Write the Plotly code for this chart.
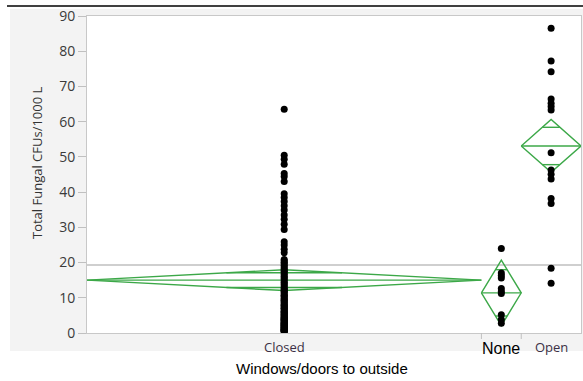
import math
import plotly.graph_objects as go

# ---- data ----
categories = ["Closed", "None", "Open"]

closed_values = [
    63.5, 50.5, 49.3, 47.9, 45.3, 44.4, 43.0, 39.5, 38.5, 37.3, 36.1, 34.9,
    33.5, 32.3, 30.9, 29.4, 25.9, 25.0, 23.8, 22.8,
    20.9, 20.5, 20.1, 19.7, 19.2, 18.8, 18.3, 17.9, 17.5, 17.0, 16.6, 16.1,
    15.7, 15.3, 14.8, 14.4, 14.0, 13.6, 13.1, 12.7, 12.3, 11.9, 11.5, 11.1,
    10.7, 10.3, 9.9, 9.5, 9.1, 8.7, 8.3, 7.9, 7.6, 7.2, 6.9, 6.5, 6.2, 5.9,
    5.6, 5.3, 5.0, 4.7, 4.4, 4.1, 3.8, 3.5, 3.3, 3.0, 2.8, 2.5, 2.3, 2.1,
    1.9, 1.7, 1.5, 1.3, 1.1, 0.9, 0.7, 0.5, 0.4, 1.0, 1.6, 2.2, 2.9, 3.6,
    4.3, 5.1, 6.0, 7.0, 8.0, 9.2, 10.5, 12.0, 1.4, 2.6, 3.9, 0.8, 0.6,
]
none_values = [24.0, 17.0, 16.3, 15.6, 12.6, 11.8, 11.2, 5.2, 3.8, 2.8]
open_values = [86.5, 77.2, 74.2, 66.4, 65.2, 64.3, 63.3, 51.2, 46.3, 45.1,
               43.7, 38.2, 36.8, 18.4, 14.1]

group_means = [15.0, 11.4, 53.1]
ci_half = [2.95, 9.3, 7.5]
grand_mean = 19.3

y_ticks = [0, 10, 20, 30, 40, 50, 60, 70, 80, 90]

# ---- geometry helpers ----
groups = [closed_values, none_values, open_values]
counts = [len(g) for g in groups]
bounds = [0]
for c in counts:
    bounds.append(bounds[-1] + c)
total = bounds[-1]

W, H = 583, 381
L, R, T, B = 87, 2, 16, 48
PW, PH = W - L - R, H - T - B


def px_x(px):
    return (px - L) / PW


def px_y(py):
    return (H - B - py) / PH


green = "rgb(60,168,72)"
fig = go.Figure()

# diamonds
for i, cat in enumerate(categories):
    x0, x1 = bounds[i], bounds[i + 1]
    xc = (x0 + x1) / 2
    m, c = group_means[i], ci_half[i]
    fig.add_trace(go.Scatter(
        x=[x0, xc, x1, xc, x0, None, x0, x1],
        y=[m, m + c, m, m - c, m, None, m, m],
        mode="lines", line=dict(color=green, width=1.4),
        hoverinfo="skip", showlegend=False))
    ov = c / math.sqrt(2)
    hw = (x1 - x0) / 2 * (1 - 1 / math.sqrt(2))
    fig.add_trace(go.Scatter(
        x=[xc - hw, xc + hw, None, xc - hw, xc + hw],
        y=[m + ov, m + ov, None, m - ov, m - ov],
        mode="lines", line=dict(color=green, width=1.4),
        hoverinfo="skip", showlegend=False))

# points
for i, cat in enumerate(categories):
    xc = (bounds[i] + bounds[i + 1]) / 2
    fig.add_trace(go.Scatter(
        x=[xc] * len(groups[i]), y=groups[i], mode="markers",
        marker=dict(color="black", size=7), name=cat, showlegend=False))

shapes = [
    # light gray frame
    dict(type="rect", xref="paper", yref="paper", layer="below",
         x0=px_x(10), x1=px_x(584), y0=px_y(351), y1=px_y(9),
         fillcolor="#f3f3f3", line=dict(width=0)),
    # white plot area
    dict(type="rect", xref="paper", yref="paper", layer="below",
         x0=0, x1=1, y0=0, y1=1, fillcolor="white", line=dict(width=0)),
    # black top rule
    dict(type="line", xref="paper", yref="paper",
         x0=px_x(7), x1=px_x(584), y0=px_y(6), y1=px_y(6),
         line=dict(color="black", width=1.5)),
    # grand mean
    dict(type="line", xref="paper", yref="y", x0=0, x1=1,
         y0=grand_mean, y1=grand_mean, layer="below",
         line=dict(color="#a0a0a0", width=1.2)),
]
for b in bounds[1:-1]:
    shapes.append(dict(type="line", xref="x", yref="paper", x0=b, x1=b,
                       y0=0, y1=-6 / PH, line=dict(color="#c0c0c0", width=1)))

label_font = "Open Sans, DejaVu Sans, sans-serif"
annotations = [
    dict(text="Closed", x=(bounds[0] + bounds[1]) / 2, xref="x",
         y=px_y(347), yref="paper", showarrow=False, yanchor="middle",
         font=dict(family=label_font, size=13, color="#3b2f45")),
    dict(text="None", x=(bounds[1] + bounds[2]) / 2, xref="x",
         y=px_y(349), yref="paper", showarrow=False, yanchor="middle",
         font=dict(family="Liberation Sans, Arial, sans-serif", size=16, color="black")),
    dict(text="Open", x=(bounds[2] + bounds[3]) / 2, xref="x",
         y=px_y(347), yref="paper", showarrow=False, yanchor="middle",
         font=dict(family=label_font, size=13, color="#3b2f45")),
    dict(text="Windows/doors to outside", x=px_x(322), xref="paper",
         y=px_y(368), yref="paper", showarrow=False, yanchor="middle",
         font=dict(family="Liberation Sans, Arial, sans-serif", size=15, color="black")),
    dict(text="Total Fungal CFUs/1000 L", x=px_x(37), xref="paper",
         y=px_y(163), yref="paper", showarrow=False, textangle=-90,
         xanchor="center", yanchor="middle",
         font=dict(family=label_font, size=13, color="#333333")),
]

fig.update_layout(
    width=W, height=H,
    margin=dict(l=L, r=R, t=T, b=B, pad=0),
    paper_bgcolor="white", plot_bgcolor="white",
    shapes=shapes, annotations=annotations,
    xaxis=dict(range=[0, total], showticklabels=False, ticks="",
               showgrid=False, zeroline=False, showline=True, mirror=True,
               linecolor="#c8c8c8", linewidth=1, fixedrange=True),
    yaxis=dict(range=[0, 90], tickvals=y_ticks, ticks="outside", ticklen=8,
               tickcolor="#c0c0c0", showgrid=False, zeroline=False,
               showline=True, mirror=True, linecolor="#c8c8c8", linewidth=1,
               tickfont=dict(family=label_font, size=14, color="#3a3a3a"),
               fixedrange=True),
)

fig.write_html("out.html", config={"displayModeBar": False},
               post_script="document.body.style.margin='0';"
                           "document.body.style.overflow='hidden';")
